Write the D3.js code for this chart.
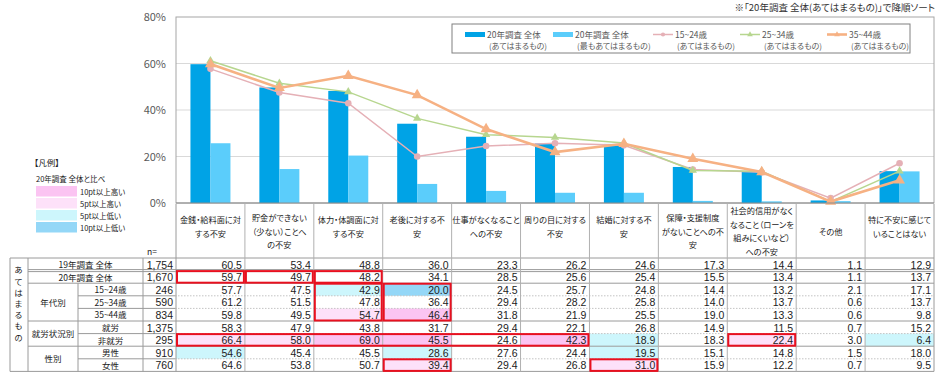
<!DOCTYPE html>
<html>
<head>
<meta charset="utf-8">
<script src="https://cdn.jsdelivr.net/npm/d3@7"></script>
<style>
  body { margin: 0; background: #fff; }
  svg { font-family: "Noto Sans CJK JP", "Noto Sans", sans-serif; font-feature-settings: "palt"; }
  .num { font-family: "Liberation Sans", Arial, sans-serif; }
</style>
</head>
<body>
<svg id="chart" width="943" height="372"></svg>
<script>
// category labels (line breaks as in the original)
const categories = [
  ["金銭・給料面に対", "する不安"],
  ["貯金ができない", "（少ない）ことへ", "の不安"],
  ["体力・体調面に対", "する不安"],
  ["老後に対する不", "安"],
  ["仕事がなくなること", "への不安"],
  ["周りの目に対する", "不安"],
  ["結婚に対する不", "安"],
  ["保障・支援制度", "がないことへの不", "安"],
  ["社会的信用がなく", "なること（ローンを", "組みにくいなど）", "への不安"],
  ["その他"],
  ["特に不安に感じて", "いることはない"]
];

const rowLabels = ["19年調査 全体", "20年調査 全体", "15~24歳", "25~34歳", "35~44歳", "就労", "非就労", "男性", "女性"];
const groupLabels = [
  { label: "年代別", from: 2, to: 4 },
  { label: "就労状況別", from: 5, to: 6 },
  { label: "性別", from: 7, to: 8 }
];
const sideLabel = "あてはまるもの";
const nValues = [1754, 1670, 246, 590, 834, 1375, 295, 910, 760];

const tableValues = [
  [60.5, 53.4, 48.8, 36.0, 23.3, 26.2, 24.6, 17.3, 14.4, 1.1, 12.9],
  [59.7, 49.7, 48.2, 34.1, 28.5, 25.6, 25.4, 15.5, 13.4, 1.1, 13.7],
  [57.7, 47.5, 42.9, 20.0, 24.5, 25.7, 24.8, 14.4, 13.2, 2.1, 17.1],
  [61.2, 51.5, 47.8, 36.4, 29.4, 28.2, 25.8, 14.0, 13.7, 0.6, 13.7],
  [59.8, 49.5, 54.7, 46.4, 31.8, 21.9, 25.5, 19.0, 13.3, 0.6, 9.8],
  [58.3, 47.9, 43.8, 31.7, 29.4, 22.1, 26.8, 14.9, 11.5, 0.7, 15.2],
  [66.4, 58.0, 69.0, 45.5, 24.6, 42.3, 18.9, 18.3, 22.4, 3.0, 6.4],
  [54.6, 45.4, 45.5, 28.6, 27.6, 24.4, 19.5, 15.1, 14.8, 1.5, 18.0],
  [64.6, 53.8, 50.7, 39.4, 29.4, 26.8, 31.0, 15.9, 12.2, 0.7, 9.5]
];

// 20年調査 全体 (最もあてはまるもの)
const mostValues = [25.7, 14.6, 20.4, 8.2, 5.2, 4.4, 4.4, 0.9, 0.7, 0.8, 13.6];

const yTicks = [0, 20, 40, 60, 80];

const lineSeries = [
  { row: 2, color: "#e5b0b6", width: 1.5, marker: "circle" },
  { row: 3, color: "#b7d68f", width: 1.5, marker: "triangle" },
  { row: 4, color: "#f6b183", width: 2.6, marker: "triangle" }
];

const legendItems = [
  { type: "bar", color: "#00a3e6", l1: "20年調査 全体", l2: "(あてはまるもの)" },
  { type: "bar", color: "#5bcdfb", l1: "20年調査 全体", l2: "(最もあてはまるもの)" },
  { type: "line", s: 0, l1: "15~24歳", l2: "(あてはまるもの)" },
  { type: "line", s: 1, l1: "25~34歳", l2: "(あてはまるもの)" },
  { type: "line", s: 2, l1: "35~44歳", l2: "(あてはまるもの)" }
];

const diffLegend = [
  { label: "10pt以上高い", color: "#fbc4f2" },
  { label: "5pt以上高い", color: "#fde1f9" },
  { label: "5pt以上低い", color: "#cdf6fc" },
  { label: "10pt以上低い", color: "#94d7f7" }
];

// red boxes: [rowFrom, colFrom, colTo, rowTo]
const redBoxes = [
  [1, 0, 0, 1], [1, 1, 1, 1], [1, 2, 2, 1],
  [2, 2, 2, 4], [2, 3, 3, 4],
  [6, 0, 5, 6], [6, 8, 8, 6],
  [8, 3, 3, 8], [8, 6, 6, 8]
];

const svg = d3.select("#chart");

const x = d3.scaleBand().domain(d3.range(categories.length)).range([176, 934]);
const bw = x.bandwidth();
const sub = d3.scaleBand().domain([0, 1]).range([(bw - 40) / 2, (bw + 40) / 2]);
const y = d3.scaleLinear().domain([0, 80]).range([203, 17]);

// grid
svg.append("g").selectAll("line").data(yTicks.slice(1, -1)).join("line")
  .attr("x1", 176).attr("x2", 934)
  .attr("y1", d => y(d)).attr("y2", d => y(d))
  .attr("stroke", "#d9d9d9");

svg.append("rect").attr("x", 176).attr("y", y(80)).attr("width", 758).attr("height", y(0) - y(80))
  .attr("fill", "none").attr("stroke", "#a6a6a6");

const yAxis = svg.append("g").attr("transform", "translate(176,0)")
  .call(d3.axisLeft(y).tickValues(yTicks).tickFormat(d => d + "%").tickSize(0).tickPadding(10));
yAxis.select(".domain").remove();
yAxis.selectAll("text").attr("fill", "#595959").attr("font-size", 11).style("font-family", "'Noto Sans CJK JP'");

// bars
const gBars = svg.append("g");
gBars.selectAll("rect.all").data(tableValues[1]).join("rect")
  .attr("x", (d, i) => x(i) + sub(0)).attr("width", sub.bandwidth())
  .attr("y", d => y(d)).attr("height", d => y(0) - y(d))
  .attr("fill", legendItems[0].color);
gBars.selectAll("rect.most").data(mostValues).join("rect")
  .attr("x", (d, i) => x(i) + sub(1)).attr("width", sub.bandwidth())
  .attr("y", d => y(d)).attr("height", d => y(0) - y(d))
  .attr("fill", legendItems[1].color);

// lines
const line = d3.line().x((d, i) => x(i) + bw / 2).y(d => y(d));
const sym = (m, big) => d3.symbol().type(m === "circle" ? d3.symbolCircle : d3.symbolTriangle).size(m === "circle" ? 34 : (big ? 52 : 30));
lineSeries.forEach((s, k) => {
  const vals = tableValues[s.row];
  svg.append("path").datum(vals).attr("d", line)
    .attr("fill", "none").attr("stroke", s.color).attr("stroke-width", s.width);
  svg.append("g").selectAll("path").data(vals).join("path")
    .attr("transform", (d, i) => `translate(${x(i) + bw / 2},${y(d)})`)
    .attr("d", sym(s.marker, k === 2)).attr("fill", s.color);
});

// axis baseline
svg.append("line").attr("x1", 176).attr("x2", 934).attr("y1", y(0)).attr("y2", y(0)).attr("stroke", "#8c8c8c");

// plot legend
svg.append("rect").attr("x", 452).attr("y", 24).attr("width", 458).attr("height", 29)
  .attr("fill", "#fff").attr("stroke", "#808080");
const legX = [465, 553, 653, 740, 827];
legendItems.forEach((it, i) => {
  const g = svg.append("g").attr("transform", `translate(${legX[i]},0)`);
  if (it.type === "bar") {
    g.append("rect").attr("x", 0).attr("y", 32).attr("width", 20).attr("height", 5).attr("fill", it.color);
  } else {
    const s = lineSeries[it.s];
    g.append("line").attr("x1", 0).attr("x2", 20).attr("y1", 34.5).attr("y2", 34.5)
      .attr("stroke", s.color).attr("stroke-width", s.width);
    g.append("path").attr("transform", "translate(10,34.5)").attr("d", sym(s.marker, false).size(14)).attr("fill", s.color);
  }
  g.append("text").attr("x", 22).attr("y", 37.5).attr("font-size", 8.5).attr("fill", "#595959").text(it.l1);
  g.append("text").attr("x", 24).attr("y", 49.3).attr("font-size", 8).attr("fill", "#595959").text(it.l2);
});

// note
svg.append("text").attr("x", 935).attr("y", 11).attr("text-anchor", "end")
  .attr("font-size", 9.5).attr("fill", "#333").text("※「20年調査 全体(あてはまるもの)」で降順ソート");

// left legend
svg.append("text").attr("x", 34).attr("y", 166).attr("font-size", 8.5).attr("fill", "#222").text("【凡例】");
svg.append("text").attr("x", 36).attr("y", 182).attr("font-size", 7.5).attr("fill", "#222").text("20年調査 全体と比べ");
diffLegend.forEach((d, i) => {
  svg.append("rect").attr("x", 36).attr("y", 186 + i * 12).attr("width", 41).attr("height", 10.5).attr("fill", d.color);
  svg.append("text").attr("x", 80).attr("y", 194.5 + i * 12).attr("font-size", 7.5).attr("fill", "#222").text(d.label);
});

// ---- table ----
const tTop = 258, rowH = 12.6, hTop = 204;
const rowTop = i => tTop + i * rowH;
const tRight = 934;
const gT = svg.append("g");

// header labels
categories.forEach((lines, i) => {
  const c = lines.length === 2 ? 227 : 231.5;
  const t = gT.append("text").attr("text-anchor", "middle").attr("font-size", 8.2).attr("fill", "#222");
  lines.forEach((ln, k) => {
    t.append("tspan").attr("x", x(i) + bw / 2)
      .attr("y", c + (k - (lines.length - 1) / 2) * 13.6 + 3).text(ln);
  });
});

// cell highlights
const diffColor = v => v >= 10 ? diffLegend[0].color : v >= 5 ? diffLegend[1].color : v <= -10 ? diffLegend[3].color : v <= -5 ? diffLegend[2].color : null;
tableValues.forEach((row, r) => {
  if (r < 2) return;
  row.forEach((v, c) => {
    const col = diffColor(Math.round((v - tableValues[1][c]) * 10) / 10);
    if (col) gT.append("rect").attr("x", x(c)).attr("y", rowTop(r)).attr("width", bw).attr("height", rowH).attr("fill", col);
  });
});

// lines of the table
const solid = "#9a9a9a", dotted = "#c4c4c4";
const hl = (x1, x2, yy, col, dash) => gT.append("line").attr("x1", x1).attr("x2", x2).attr("y1", yy).attr("y2", yy)
  .attr("stroke", col).attr("stroke-dasharray", dash || null);
const vl = (xx, y1, y2, col) => gT.append("line").attr("x1", xx).attr("x2", xx).attr("y1", y1).attr("y2", y2).attr("stroke", col);

hl(10, tRight, tTop, solid);
hl(28, tRight, rowTop(1) - 1, solid);
hl(28, tRight, rowTop(1) + 1, solid);
const groupStarts = groupLabels.map(g => g.from);
for (let r = 2; r <= rowLabels.length; r++) {
  if (r === rowLabels.length) { hl(10, tRight, rowTop(r), solid); continue; }
  if (groupStarts.includes(r)) hl(28, tRight, rowTop(r), solid);
  else { hl(78, 175, rowTop(r), solid); hl(175, tRight, rowTop(r), dotted, "1.5,1.5"); }
}
const tBottom = rowTop(rowLabels.length);
vl(10, tTop, tBottom, solid);
vl(28, tTop, tBottom, solid);
vl(78, rowTop(2), tBottom, solid);
vl(143, tTop, tBottom, solid);
d3.range(categories.length).forEach(i => vl(x(i), hTop, tBottom, i === 0 ? solid : "#b0b0b0"));
vl(tRight, hTop, tBottom, solid);

// row labels
rowLabels.forEach((lab, r) => {
  const cx = r < 2 ? 85.5 : 110.5;
  gT.append("text").attr("x", cx).attr("y", rowTop(r) + 10).attr("text-anchor", "middle")
    .attr("font-size", 8.5).attr("fill", "#222").text(lab);
  gT.append("text").attr("class", "num").attr("x", 173).attr("y", rowTop(r) + 10.5).attr("text-anchor", "end")
    .attr("font-size", 10.5).attr("fill", "#222").text(d3.format(",")(nValues[r]));
  tableValues[r].forEach((v, c) => {
    gT.append("text").attr("class", "num").attr("x", x(c) + bw - 3).attr("y", rowTop(r) + 10.5).attr("text-anchor", "end")
      .attr("font-size", 10.5).attr("fill", "#222").text(v.toFixed(1));
  });
});
groupLabels.forEach(g => {
  gT.append("text").attr("x", 53).attr("y", (rowTop(g.from) + rowTop(g.to + 1)) / 2 + 3.5)
    .attr("text-anchor", "middle").attr("font-size", 8.5).attr("fill", "#222").text(g.label);
});
gT.append("text").attr("x", 18.5).attr("y", 266)
  .style("writing-mode", "vertical-rl").style("glyph-orientation-vertical", "0")
  .attr("font-size", 8.5).attr("letter-spacing", 2.7).attr("fill", "#222").text(sideLabel);
gT.append("text").attr("x", 147).attr("y", 255).attr("font-size", 8.5).attr("fill", "#222").text("n=");

// red boxes
redBoxes.forEach(([r0, c0, c1, r1]) => {
  gT.append("rect").attr("x", x(c0) + 1).attr("y", rowTop(r0) + 0.5)
    .attr("width", x(c1) + bw - x(c0) - 2).attr("height", rowTop(r1 + 1) - rowTop(r0) - 1)
    .attr("fill", "none").attr("stroke", "#e8101f").attr("stroke-width", 2);
});
</script>
</body>
</html>
